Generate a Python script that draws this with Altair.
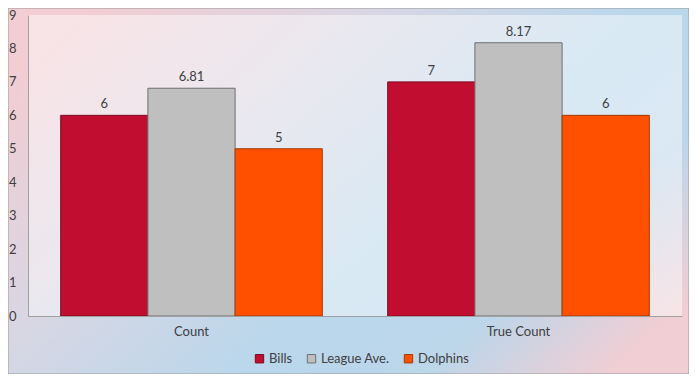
import altair as alt
import pandas as pd

categories = ["Count", "True Count"]
series = ["Bills", "League Ave.", "Dolphins"]
bills = [6, 7]
league_ave = [6.81, 8.17]
dolphins = [5, 6]
colors = ["#C00D30", "#BFBFBF", "#FF5000"]
strokes = ["#7A0A20", "#6F6F6F", "#A33A00"]
y_ticks = list(range(10))

rows = []
for i, c in enumerate(categories):
    for s, vals in zip(series, [bills, league_ave, dolphins]):
        v = vals[i]
        rows.append({"category": c, "series": s, "value": v, "label": f"{v:g}"})
df = pd.DataFrame(rows)

W, H = 654, 301
PL, PT, PR, PB = 20, 7, 7, 58
FONT = "Lato"
TXT = "#404040"

one = pd.DataFrame({"a": [0]})

grad = alt.Gradient(
    gradient="linear",
    x1=0, y1=0.2, x2=1, y2=0.8,
    stops=[
        alt.GradientStop(color="#F2CDD3", offset=0),
        alt.GradientStop(color="#D9D6E2", offset=0.3),
        alt.GradientStop(color="#BAD7EC", offset=0.6),
        alt.GradientStop(color="#BCD6EA", offset=0.8),
        alt.GradientStop(color="#F0CED4", offset=1),
    ],
)

bg = alt.Chart(one).mark_rect(fill=grad, stroke="#9A9A9A", strokeWidth=1).encode(
    x=alt.value(-PL), x2=alt.value(W + PR), y=alt.value(-PT), y2=alt.value(H + PB)
)

plotbg = alt.Chart(one).mark_rect(fill="white", opacity=0.45).encode(
    x=alt.value(0), x2=alt.value(W), y=alt.value(0), y2=alt.value(H)
)

legend = alt.Legend(
    title=None, orient="none", legendX=225, legendY=337, direction="horizontal",
    symbolType="square", symbolSize=70, labelFontSize=13, labelFont=FONT, labelColor=TXT,
    columnPadding=12, labelOffset=3, symbolStrokeWidth=1,
)

x_enc = alt.X(
    "category:N", sort=categories, title=None,
    scale=alt.Scale(paddingInner=0.2, paddingOuter=0.1),
    axis=alt.Axis(labelAngle=0, ticks=False, domainColor="#A0A0A0", labelPadding=9,
                  labelFontSize=13, labelFont=FONT, labelColor=TXT, zindex=1),
)
xo_enc = alt.XOffset("series:N", sort=series, scale=alt.Scale(paddingInner=0, paddingOuter=0))
y_enc = alt.Y(
    "value:Q", title=None, scale=alt.Scale(domain=[0, 9], nice=False),
    axis=alt.Axis(values=y_ticks, ticks=False, grid=False, domainColor="#A0A0A0",
                  labelPadding=12, labelFontSize=13, labelFont=FONT, labelColor=TXT, zindex=1,
                  labelOverlap=False, labelFlush=False, labelBound=False),
)

bars = alt.Chart(df).mark_bar(strokeWidth=1).encode(
    x=x_enc, xOffset=xo_enc, y=y_enc,
    color=alt.Color("series:N", sort=series, scale=alt.Scale(domain=series, range=colors), legend=legend),
    stroke=alt.Stroke("series:N", sort=series, scale=alt.Scale(domain=series, range=strokes), legend=legend),
)

text = alt.Chart(df).mark_text(dy=-11, fontSize=13, font=FONT, color=TXT).encode(
    x=x_enc, xOffset=xo_enc, y=y_enc,
    text="label:N",
)

chart = alt.layer(bg, plotbg, bars, text).properties(
    width=W, height=H,
    autosize=alt.AutoSizeParams(type="none"),
    padding={"left": PL, "top": PT, "right": PR, "bottom": PB},
).configure_view(stroke=None)

chart.save("out.html", embed_options={"renderer": "svg", "actions": False})
